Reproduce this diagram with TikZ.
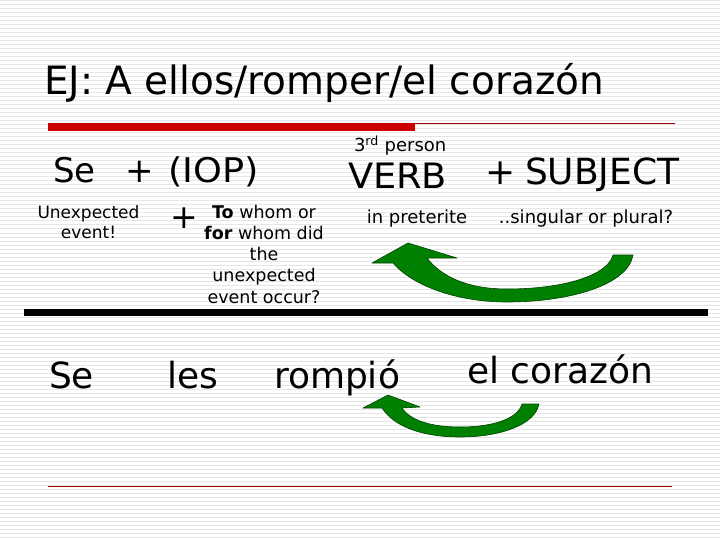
\documentclass[tikz,border=0pt]{standalone}
\usepackage{fontspec}
\setmainfont{DejaVu Sans}
\definecolor{redbar}{HTML}{CC0000}
\definecolor{thinred}{HTML}{A00000}
\definecolor{arrowgreen}{HTML}{008000}
\definecolor{arrowedge}{HTML}{004000}
\definecolor{stripe}{HTML}{E6E6E6}
\newcommand{\fsz}[1]{\fontsize{#1}{#1}\selectfont}
\begin{document}
\begin{tikzpicture}[x=1pt,y=-1pt,
  txt/.style={inner sep=0pt, outer sep=0pt, anchor=base west},
  ctxt/.style={inner sep=0pt, outer sep=0pt, anchor=base, align=center},
  bentarrow/.style={fill=arrowgreen, draw=arrowedge, line width=0.6pt, line join=round}]
\useasboundingbox (0,0) rectangle (720,540);
\fill[white] (0,0) rectangle (720,540);
\foreach \yy in {1,5,...,539} \draw[stripe, line width=1pt] (0,\yy) -- (720,\yy);
% title
\node[txt, font=\fsz{39}] (title) at (44,95) {EJ: A ellos/romper/el corazón};
% bars
\fill[redbar] (48,123) rectangle (415,131);
\draw[thinred, line width=1pt] (415,124) -- (675,124);
\fill[black] (24,309) rectangle (708,316);
\draw[thinred, line width=1pt] (48,486) -- (672,486);
% upper row
\node[txt, font=\fsz{34}] (se) at (53,183) {Se};
\node[txt, font=\fsz{34}] (plus1) at (125,183) {+};
\node[txt, font=\fsz{34}] (iop) at (168,183) {\scalebox{1.08}[1]{(IOP)}};
\node[txt, font=\fsz{18}] (third) at (354,152) {3\textsuperscript{rd} person};
\node[txt, font=\fsz{35}] (verb) at (348,189) {\scalebox{1.05}[1]{VERB}};
\node[txt, font=\fsz{36}] (plus2) at (485,185) {+};
\node[txt, font=\fsz{36}] (subject) at (525,185) {SUBJECT};
% descriptions
\node[ctxt, font=\fontsize{17}{20}\selectfont] (unexp) at (88.5,238) {Unexpected\\event!};
\node[txt, font=\fsz{33}] (plus3) at (170,229) {+};
\node[ctxt, font=\fontsize{17.5}{21.3}\selectfont] (whom) at (264,303.2)
  {\textbf{To} whom or\\\textbf{for} whom did\\the\\unexpected\\event occur?};
\node[ctxt, font=\fsz{18}] (pret) at (417,223) {in preterite};
\node[ctxt, font=\fsz{18}] (sing) at (586,223) {..singular or plural?};
% big curved arrow (subject -> verb)
\filldraw[bentarrow] (613,255) .. controls (608,275) and (565,289) .. (507,289)
  .. controls (465,289) and (440,275) .. (427,258) -- (457,258) -- (408,243)
  -- (372,263) -- (393,263) .. controls (412,285) and (455,302) .. (507,302)
  .. controls (570,302) and (628,285) .. (633,255) -- cycle;
% lower row
\node[txt, font=\fsz{36}] (se2) at (49,388) {Se};
\node[txt, font=\fsz{36}] (les) at (167,388) {les};
\node[txt, font=\fsz{36}] (rompio) at (274,388) {rompió};
\node[txt, font=\fsz{36}] (corazon) at (467,383) {el corazón};
% small curved arrow
\filldraw[bentarrow] (522,404) .. controls (518,418) and (495,427) .. (460,427)
  .. controls (430,427) and (410,420) .. (402,408) -- (420,407) -- (388,395)
  -- (363,408) -- (382,408) .. controls (395,428) and (425,437) .. (460,437)
  .. controls (500,437) and (535,425) .. (539,404) -- cycle;
\end{tikzpicture}
\end{document}
